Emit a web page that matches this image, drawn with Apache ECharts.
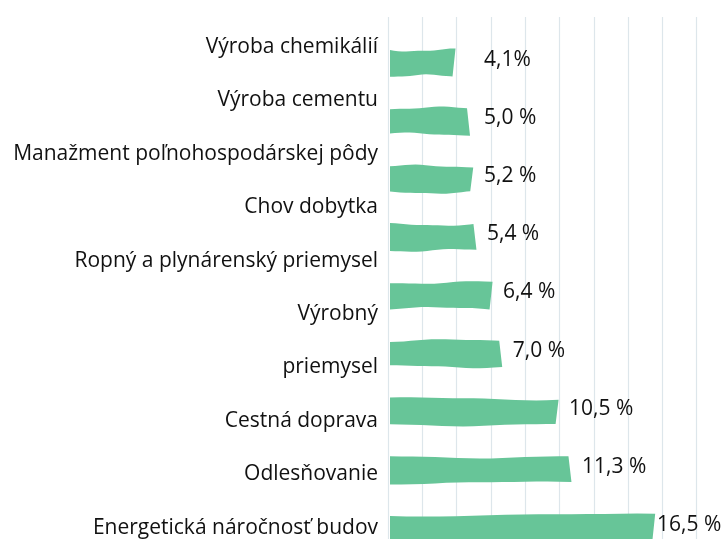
<!DOCTYPE html>
<html>
<head>
<meta charset="utf-8">
<style>
  html, body { margin: 0; padding: 0; background: #fff; overflow: hidden; }
  /* bigger than the window: the picture is cropped at the right and bottom */
  #chart { width: 760px; height: 580px; }
</style>
<script src="https://cdn.jsdelivr.net/npm/echarts@6/dist/echarts.min.js"></script>
</head>
<body>
<div id="chart"></div>
<script>
// one entry per bar, top to bottom
var categories = [
  'Výroba chemikálií',
  'Výroba cementu',
  'Manažment poľnohospodárskej pôdy',
  'Chov dobytka',
  'Ropný a plynárenský priemysel',
  'Výrobný priemysel',
  'Cestná doprava',
  'Odlesňovanie',
  'Energetická náročnosť budov'
];
var values = [4.1, 5.0, 5.2, 5.4, 6.4, 7.0, 10.5, 11.3, 16.5];
var valueLabels = ['4,1%', '5,0 %', '5,2 %', '5,4 %', '6,4 %', '7,0 %', '10,5 %', '11,3 %', '16,5 %'];
// the left-hand text as it is printed, line by line
var labelLines = [
  'Výroba chemikálií',
  'Výroba cementu',
  'Manažment poľnohospodárskej pôdy',
  'Chov dobytka',
  'Ropný a plynárenský priemysel',
  'Výrobný',
  'priemysel',
  'Cestná doprava',
  'Odlesňovanie',
  'Energetická náročnosť budov'
];

var GREEN = '#67c598';
var FONT = 'Open Sans';
var FONT_SIZE = 21;
var AXIS_MAX = 21.3;
var AXIS_STEP = 2.13;

var chart = echarts.init(document.getElementById('chart'));

// slightly uneven edge, looks hand drawn
function wobble(t, seed) {
  return 1.3 * Math.sin(t * 4.5 + seed) + 0.4 * Math.sin(t * 11 + seed * 2.3);
}

function renderBar(params, api) {
  var idx = params.dataIndex;
  var v = api.value(0);
  var start = api.coord([0, api.value(1)]);
  var end = api.coord([v, api.value(1)]);
  var cy = start[1];
  var h = 26;
  var x0 = start[0] + 2;
  var x1 = end[0];
  var seed = idx * 1.7;
  var pts = [];
  var n = 16;
  var slant = (idx % 2 === 0 ? 1 : -1) * 1.5;
  for (var k = 0; k <= n; k++) {
    var t = k / n;
    pts.push([x0 + (x1 - x0) * t + (k === n ? slant : 0), cy - h / 2 + wobble(t, seed)]);
  }
  for (var k = n; k >= 0; k--) {
    var t = k / n;
    pts.push([x0 + (x1 - x0) * t - (k === n ? slant : 0), cy + h / 2 + wobble(t, seed + 2.1)]);
  }
  var labelX = Math.min(Math.max(x1 + 12, x0 + 94), 657);
  return {
    type: 'group',
    children: [
      {
        type: 'polygon',
        shape: { points: pts },
        style: { fill: GREEN }
      },
      {
        type: 'text',
        x: labelX,
        y: cy - 3,
        style: {
          text: valueLabels[idx],
          fill: '#111',
          font: FONT_SIZE + 'px "' + FONT + '"',
          verticalAlign: 'middle',
          align: 'left'
        }
      }
    ]
  };
}

chart.setOption({
  backgroundColor: '#fff',
  animation: false,
  grid: [
    // vertical grid lines
    { left: 388, width: 343, top: 17, height: 550 },
    // bars
    { left: 388, width: 343, top: 34, height: 523 },
    // left labels
    { left: 388, width: 1, top: 20.3, height: 534 }
  ],
  xAxis: [
    {
      gridIndex: 0, type: 'value', min: 0, max: AXIS_MAX, interval: AXIS_STEP,
      axisLabel: { show: false }, axisLine: { show: false }, axisTick: { show: false },
      splitLine: { show: true, lineStyle: { color: '#dde6eb', width: 1.2 } }
    },
    {
      gridIndex: 1, type: 'value', min: 0, max: AXIS_MAX,
      show: false, splitLine: { show: false }
    },
    {
      gridIndex: 2, type: 'value', show: false, splitLine: { show: false }
    }
  ],
  yAxis: [
    {
      gridIndex: 0, type: 'category', data: categories, show: false
    },
    {
      gridIndex: 1, type: 'category', data: categories, inverse: true, show: false
    },
    {
      gridIndex: 2, type: 'category', data: labelLines, inverse: true,
      axisLine: { show: false }, axisTick: { show: false },
      axisLabel: { margin: 10, color: '#111', fontSize: FONT_SIZE, fontFamily: FONT }
    }
  ],
  series: [
    {
      type: 'custom',
      xAxisIndex: 1,
      yAxisIndex: 1,
      renderItem: renderBar,
      encode: { x: 0, y: 1 },
      data: values.map(function (v, i) { return [v, categories[i]]; })
    }
  ]
});
</script>
</body>
</html>
